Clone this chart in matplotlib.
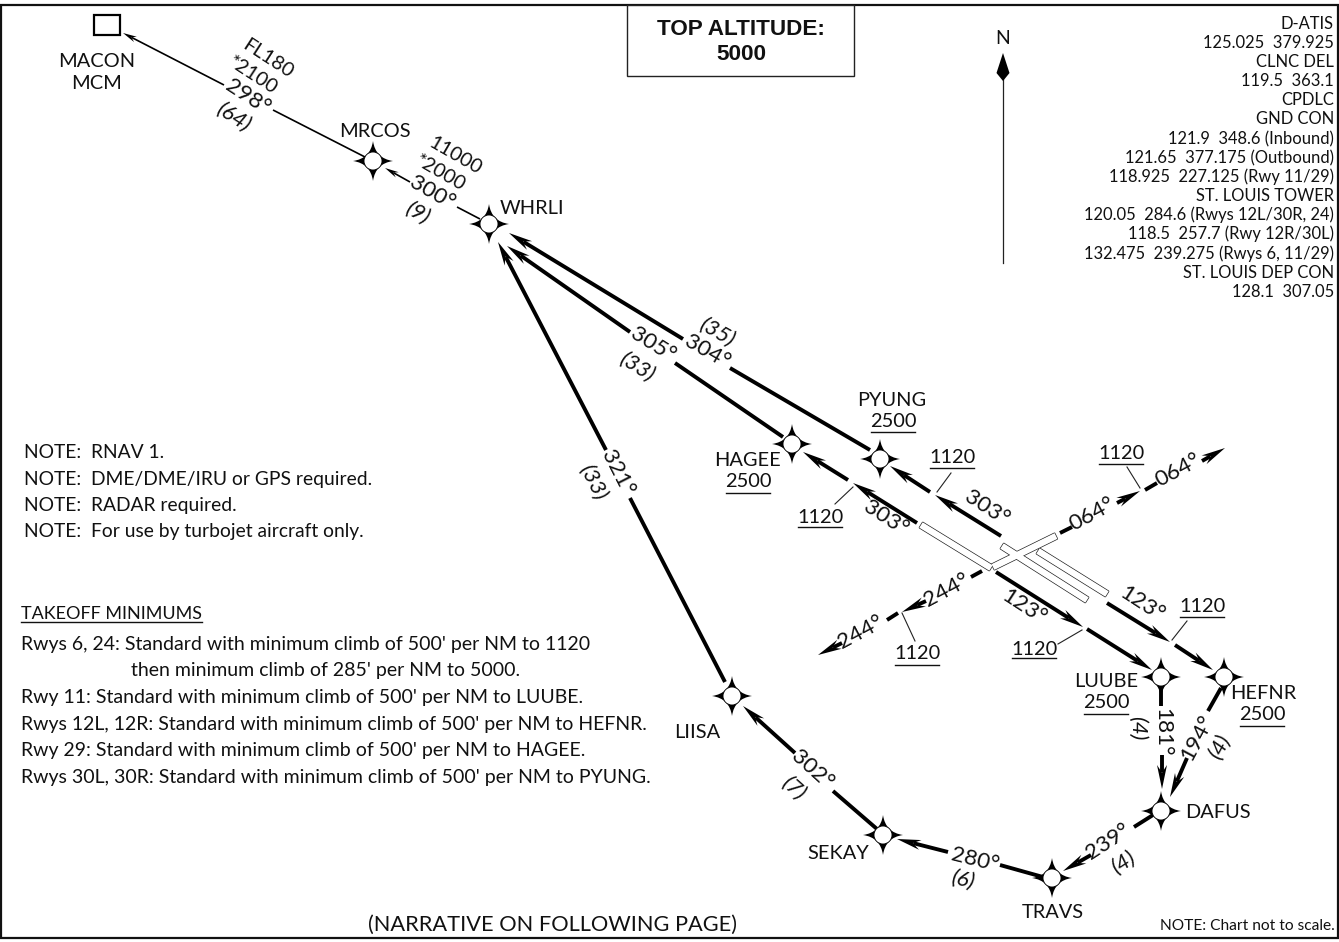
import numpy as np
import matplotlib
matplotlib.use("Agg")
import matplotlib.pyplot as plt
from matplotlib.patches import Polygon, PathPatch, Circle, Rectangle
from matplotlib.path import Path

plt.rcParams['font.family'] = ['Lato', 'DejaVu Sans']
FONT = 14.4

fix_names = ['MRCOS', 'WHRLI', 'PYUNG', 'HAGEE', 'LUUBE', 'HEFNR', 'DAFUS', 'TRAVS', 'SEKAY', 'LIISA']
fix_x = [373, 489, 880, 792, 1161, 1224, 1161, 1052, 883, 732]
fix_y = [161, 224, 459, 444, 677, 677, 811, 878, 835, 696]

# x0, y0, x1, y1, arrowhead at the end
thin_legs = [
    (224, 85, 123, 33, 1), (273, 110, 365, 157, 0),
    (410, 182, 385, 168, 1), (457, 207, 480, 219, 0),
]
thick_legs = [
    (683, 339, 509, 233, 1), (730, 368, 870, 450, 0),
    (630, 332, 507, 246, 1), (675, 363, 783, 437, 0),
    (606, 450, 498, 242, 1), (630, 498, 725, 682, 0),
    (930, 492, 890, 466, 1), (1001, 536, 935, 495, 1),
    (848, 480, 803, 452, 1), (917, 523, 853, 483, 1),
    (996, 572, 1083, 627, 1), (1087, 629, 1152, 670, 1),
    (1107, 603, 1170, 642, 1), (1175, 645, 1213, 670, 1),
    (1060, 533, 1072, 527, 0), (1117, 503, 1140, 491, 1), (1145, 490, 1157, 483, 0),
    (1202, 461, 1225, 448, 1),
    (982, 571, 971, 577, 0), (926, 601, 902, 612, 1), (898, 613, 887, 620, 0), (842, 643, 818, 655, 1),
    (1161, 687, 1161, 706, 0), (1162, 755, 1162, 789, 1),
    (1208, 711, 1221, 688, 0), (1187, 758, 1170, 797, 1),
    (1153, 815, 1134, 827, 0), (1091, 855, 1063, 871, 1),
    (1000, 865, 1043, 877, 0), (948, 852, 897, 839, 1),
    (833, 791, 877, 829, 0), (795, 753, 743, 706, 1),
]
runways_x0 = [921, 1002, 1038, 993]
runways_y0 = [525, 546, 551, 567]
runways_x1 = [991, 1087, 1107, 1056]
runways_y1 = [568, 600, 594, 536]

course_labels = [
    ('298°', 248, 97, -33), ('300°', 432, 193, -30),
    ('304°', 707, 352, -30), ('305°', 653, 345, -32), ('321°', 617, 473, -63),
    ('303°', 987, 508, -33), ('303°', 886, 518, -33), ('123°', 1024, 607, -33), ('123°', 1142, 604, -33),
    ('064°', 1092, 514, 28), ('064°', 1178, 470, 28), ('244°', 947, 590, 28), ('244°', 861, 632, 28),
    ('181°', 1162, 732, -90), ('194°', 1197, 738, 62), ('239°', 1108, 842, 33),
    ('280°', 975, 860, -14), ('302°', 812, 770, -42),
]
distance_labels = [
    ('(64)', 233, 117, -33), ('(9)', 417, 213, -30), ('(35)', 717, 332, -30), ('(33)', 637, 367, -32),
    ('(33)', 593, 482, -63), ('(4)', 1137, 728, -90), ('(4)', 1220, 747, 62), ('(4)', 1123, 863, 33),
    ('(6)', 963, 880, -14), ('(7)', 793, 788, -42),
]
altitude_labels = [
    ('*2100', 253, 75, -33), ('FL180', 268, 59, -33), ('*2000', 440, 173, -30), ('11000', 455, 156, -30),
]
plain_labels = [
    ('MACON', 97, 60), ('MCM', 97, 82), ('MRCOS', 375, 130),
    ('WHRLI', 532, 207), ('PYUNG', 892, 399), ('HAGEE', 748, 459),
    ('LUUBE', 1106, 680), ('HEFNR', 1263, 692), ('DAFUS', 1218, 811),
    ('TRAVS', 1053, 911), ('SEKAY', 838, 852), ('LIISA', 697, 731),
]
underlined = [
    ('2500', 893, 421, 432), ('2500', 748, 481, 493), ('2500', 1106, 702, 714), ('2500', 1262, 714, 726),
    ('1120', 952, 457, 468), ('1120', 820, 517, 527), ('1120', 1121, 453, 464), ('1120', 1202, 606, 617),
    ('1120', 1034, 649, 658), ('1120', 917, 653, 665),
]
leaders = [(951, 473, 937, 492), (835, 504, 853, 487), (1127, 467, 1140, 488),
           (1187, 621, 1172, 640), (1058, 644, 1082, 630), (915, 641, 902, 613)]

freq_lines = ['D-ATIS', '125.025  379.925', 'CLNC DEL', '119.5  363.1', 'CPDLC', 'GND CON',
              '121.9  348.6 (Inbound)', '121.65  377.175 (Outbound)', '118.925  227.125 (Rwy 11/29)',
              'ST. LOUIS TOWER', '120.05  284.6 (Rwys 12L/30R, 24)', '118.5  257.7 (Rwy 12R/30L)',
              '132.475  239.275 (Rwys 6, 11/29)', 'ST. LOUIS DEP CON', '128.1  307.05']
freq_y = [23, 42, 61, 80, 99, 118, 138, 157, 176, 195, 214, 233, 253, 272, 291]

note_lines = ['NOTE:  RNAV 1.', 'NOTE:  DME/DME/IRU or GPS required.', 'NOTE:  RADAR required.',
              'NOTE:  For use by turbojet aircraft only.']
note_y = [451, 478, 504, 530]

takeoff_lines = ["Rwys 6, 24: Standard with minimum climb of 500' per NM to 1120",
                 "then minimum climb of 285' per NM to 5000.",
                 "Rwy 11: Standard with minimum climb of 500' per NM to LUUBE.",
                 "Rwys 12L, 12R: Standard with minimum climb of 500' per NM to HEFNR.",
                 "Rwy 29: Standard with minimum climb of 500' per NM to HAGEE.",
                 "Rwys 30L, 30R: Standard with minimum climb of 500' per NM to PYUNG."]
takeoff_x = [21, 131, 21, 21, 21, 21]
takeoff_y = [643, 669, 696, 723, 749, 776]

fig = plt.figure(figsize=(13.39, 9.42), dpi=100, facecolor='white')
ax = fig.add_axes([0, 0, 1, 1])
ax.set_xlim(0, 1339)
ax.set_ylim(942, 0)
ax.axis('off')


def txt(s, x, y, rot=0, ha='center', size=FONT, **kw):
    dy = 0.1 * size if rot == 0 else 0
    ax.text(x, y + dy, s, rotation=rot, rotation_mode='anchor', ha=ha, va='center', fontsize=size,
            color='#111111', **kw)


def arrow_head(x1, y1, ux, uy, length, half):
    nx, ny = -uy, ux
    pts = [(x1, y1),
           (x1 - ux * length + nx * half, y1 - uy * length + ny * half),
           (x1 - ux * length * 0.68, y1 - uy * length * 0.68),
           (x1 - ux * length - nx * half, y1 - uy * length - ny * half)]
    ax.add_patch(Polygon(pts, closed=True, fc='black', ec='none', zorder=4))


def leg(x0, y0, x1, y1, head, lw, length, half):
    d = np.hypot(x1 - x0, y1 - y0)
    ux, uy = (x1 - x0) / d, (y1 - y0) / d
    if head:
        ax.plot([x0, x1 - ux * length * 0.7], [y0, y1 - uy * length * 0.7], color='black', lw=lw,
                solid_capstyle='butt', zorder=3)
        arrow_head(x1, y1, ux, uy, length, half)
    else:
        ax.plot([x0, x1], [y0, y1], color='black', lw=lw, solid_capstyle='butt', zorder=3)


def fix(x, y):
    r, c = 20, 2.5
    verts, codes = [(x, y - r)], [Path.MOVETO]
    tips = [(x + r, y), (x, y + r), (x - r, y), (x, y - r)]
    ctrl = [(x + c, y - c), (x + c, y + c), (x - c, y + c), (x - c, y - c)]
    for p, q in zip(ctrl, tips):
        verts += [p, q]
        codes += [Path.CURVE3, Path.CURVE3]
    ax.add_patch(PathPatch(Path(verts, codes), fc='black', ec='none', zorder=5))
    ax.add_patch(Circle((x, y), 9, fc='white', ec='black', lw=0.6, zorder=6))


# frame
ax.add_patch(Rectangle((1, 5), 1337, 933, fc='none', ec='#111111', lw=1.6, zorder=1))
ax.add_patch(Rectangle((627, 5), 227, 71, fc='white', ec='#222222', lw=1.0, zorder=2))
txt('TOP ALTITUDE:', 741, 28, size=16.2, fontweight='bold', family=['Liberation Sans'])
txt('5000', 741, 53, size=16.2, fontweight='bold', family=['Liberation Sans'])
ax.add_patch(Rectangle((94, 15), 26, 20, fc='none', ec='black', lw=1.6, zorder=3))

# north arrow
ax.plot([1003, 1003], [60, 263], color='#222222', lw=0.9, zorder=2)
ax.add_patch(Polygon([(1003, 53), (1009.5, 73), (1003, 81), (996.5, 73)], closed=True, fc='black', ec='none', zorder=3))
txt('N', 1003, 37, size=14)

for x0, y0, x1, y1, h in thin_legs:
    leg(x0, y0, x1, y1, h, 1.2, 14, 3)
for x0, y0, x1, y1, h in thick_legs:
    leg(x0, y0, x1, y1, h, 2.8, 24, 5)

for x0, y0, x1, y1 in leaders:
    ax.plot([x0, x1], [y0, y1], color='#222222', lw=0.8, zorder=3)

# runways: outline pass, then white pass so crossings merge
polys = []
for x0, y0, x1, y1 in zip(runways_x0, runways_y0, runways_x1, runways_y1):
    d = np.hypot(x1 - x0, y1 - y0)
    nx, ny = -(y1 - y0) / d * 3.2, (x1 - x0) / d * 3.2
    polys.append([(x0 + nx, y0 + ny), (x1 + nx, y1 + ny), (x1 - nx, y1 - ny), (x0 - nx, y0 - ny)])
for p in polys:
    ax.add_patch(Polygon(p, closed=True, fc='white', ec='#222222', lw=1.0, zorder=7))
for p in polys:
    ax.add_patch(Polygon(p, closed=True, fc='white', ec='none', zorder=7))

for n, x, y in zip(fix_names, fix_x, fix_y):
    fix(x, y)

for s, x, y, r in course_labels:
    txt(s, x, y, rot=r, size=16.2, zorder=8)
for s, x, y, r in distance_labels:
    txt(s, x, y, rot=r, size=16, style='italic', zorder=8)
for s, x, y, r in altitude_labels:
    txt(s, x, y, rot=r, size=14.4, zorder=8)
for s, x, y in plain_labels:
    txt(s, x, y)
for s, x, y, u in underlined:
    txt(s, x, y - 1)
    ax.plot([x - 22, x + 22], [u, u], color='#111111', lw=1.0, zorder=3)

for s, y in zip(freq_lines, freq_y):
    txt(s, 1334, y, ha='right', size=11.9)
for s, y in zip(note_lines, note_y):
    txt(s, 24, y, ha='left', size=13.9)
txt('TAKEOFF MINIMUMS', 21, 613, ha='left', size=13)
ax.plot([21, 202], [622, 622], color='#111111', lw=1.0)
for s, x, y in zip(takeoff_lines, takeoff_x, takeoff_y):
    txt(s, x, y, ha='left', size=14)
txt('(NARRATIVE ON FOLLOWING PAGE)', 553, 923, size=15.7)
txt('NOTE: Chart not to scale.', 1335, 925, ha='right', size=11.2)

fig.savefig('out.png', dpi=100, facecolor='white')
